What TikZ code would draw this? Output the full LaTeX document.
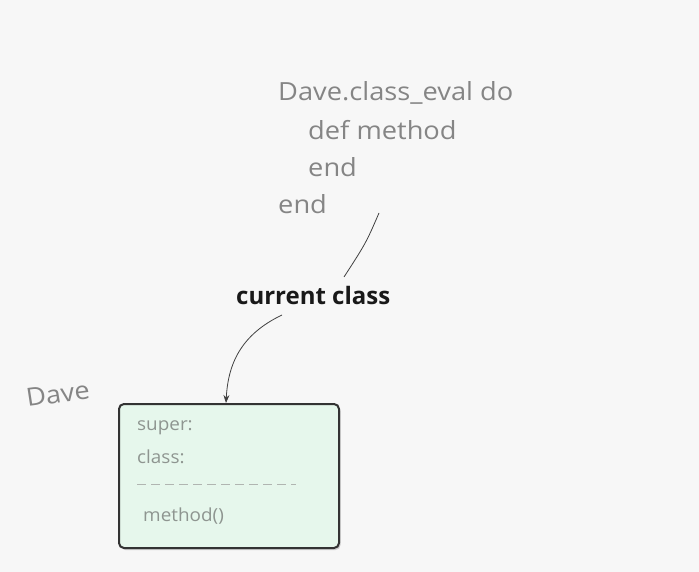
\documentclass[tikz,border=0pt]{standalone}
\usepackage{fontspec}
\setmainfont{Open Sans}
\usetikzlibrary{arrows.meta,shadows}
\definecolor{bg}{HTML}{F7F7F7}
\definecolor{inktext}{HTML}{858585}
\definecolor{boxtext}{HTML}{8E9590}
\definecolor{boxfill}{HTML}{E6F7EC}
\definecolor{boxline}{HTML}{333333}
\tikzset{
  code/.style={anchor=west, text=inktext, font=\fontsize{25}{28}\selectfont, inner sep=0pt, xscale=1.09},
  inbox/.style={anchor=west, text=boxtext, font=\fontsize{18}{20}\selectfont, inner sep=0pt, xscale=1.05},
  label/.style={anchor=west, text=black!90, font=\bfseries\fontsize{24}{28}\selectfont, inner sep=0pt, xscale=1.0},
  conn/.style={draw=black!75, line width=0.8pt},
}
\begin{document}
\begin{tikzpicture}[x=1pt,y=-1pt]
\fill[bg] (0,0) rectangle (699,572);
\useasboundingbox (0,0) rectangle (699,572);
\node[code] (l1) at (278,93) {Dave.class\_eval do};
\node[code] (l2) at (308,130) {def method};
\node[code] (l3) at (308,167) {end};
\node[code] (l4) at (278,204) {end};
\node[label] (cc) at (236,295) {current class};
\node[code, rotate=8] (dave) at (26,398) {Dave};
\node[draw=boxline, line width=2pt, fill=boxfill, rounded corners=5pt,
      minimum width=220pt, minimum height=144pt, inner sep=0pt,
      drop shadow={shadow xshift=1.5pt, shadow yshift=-2pt, opacity=0.35}] (box) at (229,476) {};
\node[inbox] (sup) at (137,428) {super:};
\node[inbox] (cls) at (137,457) {class:};
\coordinate (d1) at (137,484);
\coordinate (d2) at (296,484);
\draw[boxtext!70, line width=1pt, dash pattern=on 9pt off 5pt] (d1) -- (d2);
\node[inbox] (meth) at (143,516) {method()};
\coordinate (c1) at (379,213);
\coordinate (c2) at (344,277);
\draw[conn] (c1) .. controls (366,243) .. (c2);
\coordinate (a1) at (282,315);
\draw[conn, -{Stealth[length=8pt,width=6pt]}] (a1) .. controls (240,335) and (228,365) .. (box.north -| 226,0);
\end{tikzpicture}
\end{document}
